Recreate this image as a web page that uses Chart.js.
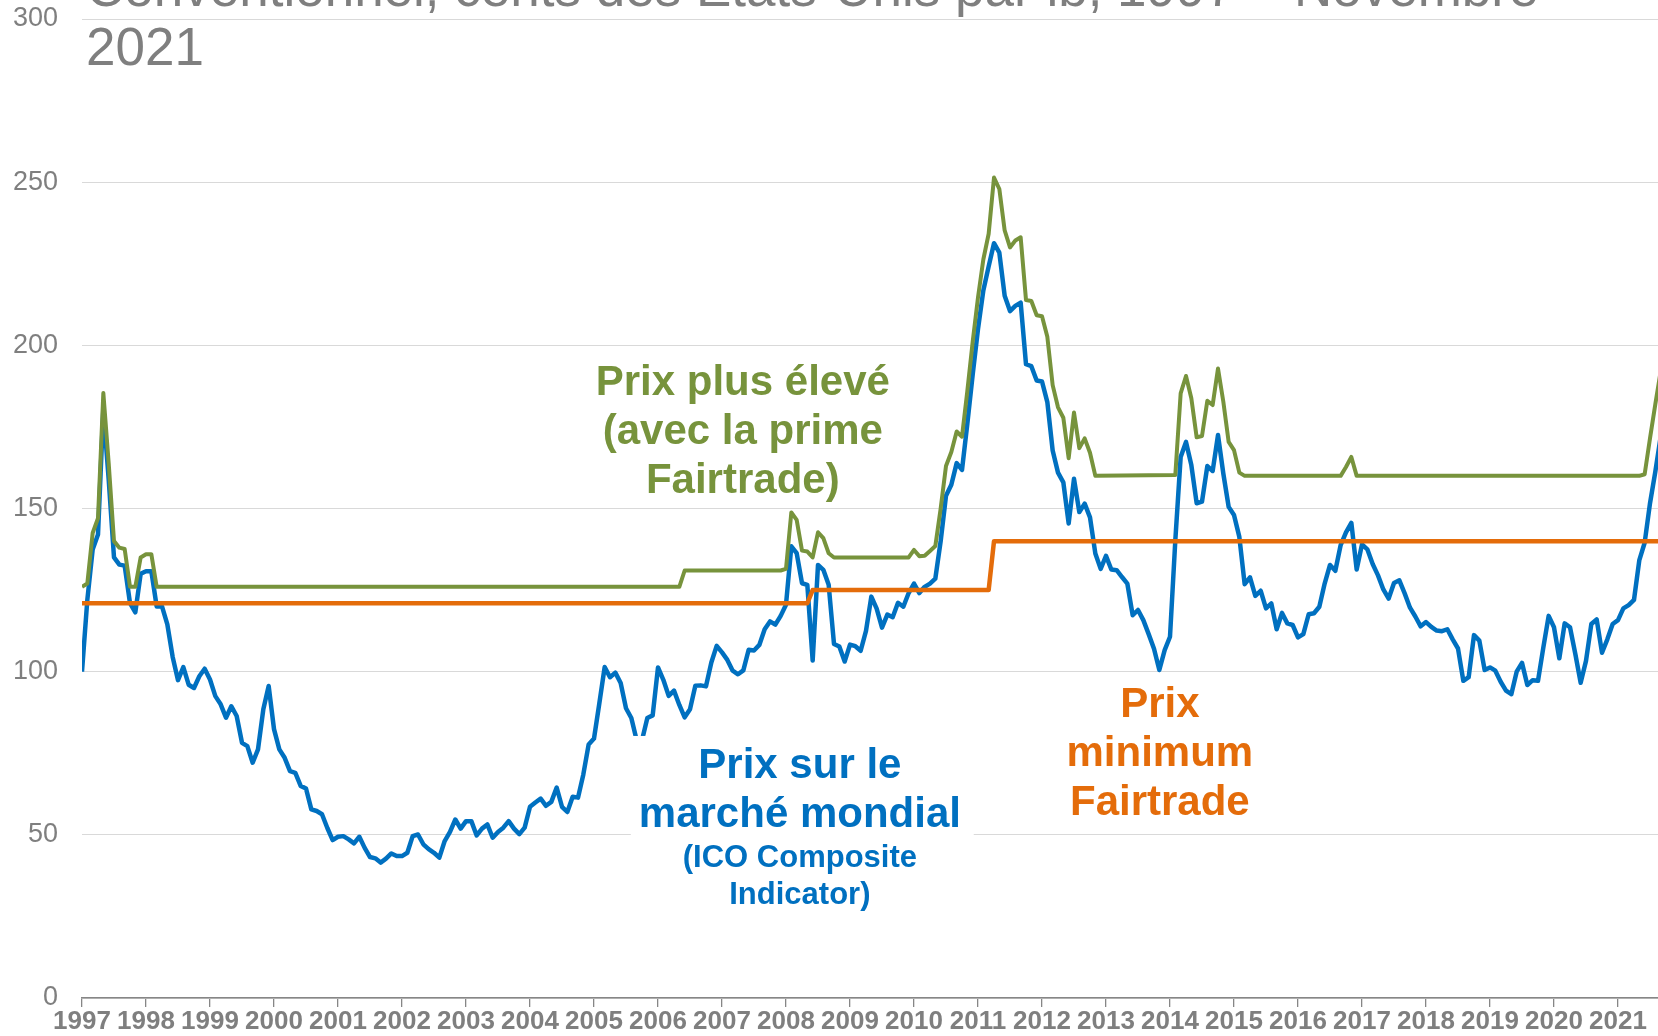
<!DOCTYPE html>
<html>
<head>
<meta charset="utf-8">
<script src="https://cdn.jsdelivr.net/npm/chart.js@4.4.1/dist/chart.umd.min.js"></script>
<style>
  html, body { margin: 0; padding: 0; background: #fff; }
  #wrap { width: 1658px; height: 1036px; }
</style>
</head>
<body>
<div id="wrap"><canvas id="chart"></canvas></div>
<script>
// x values are months counted from January 1997 (0 = Jan 1997)
const startYear = 1997;
const titleLines = ['Conventionnel, cents des États-Unis par lb, 1997 – Novembre', '2021'];

// World market price (ICO Composite Indicator), one value per month from Jan 1997
const marketPrice = [
  100, 122, 137.4, 142, 180.4, 159, 135, 132.8, 132.5, 121, 118.2, 130,          // 1997
  130.8, 130.8, 120, 120, 114.5, 104.5, 97.4, 101.4, 96, 95, 98.6, 100.9,        // 1998
  97.6, 92.5, 90, 85.9, 89.4, 86.4, 78.2, 77.2, 72.1, 76.2, 88.5, 95.6,          // 1999
  82.4, 76.2, 73.6, 69.5, 69, 65, 64.2, 57.8, 57.3, 56.3, 52.1, 48.4,            // 2000
  49.4, 49.6, 48.6, 47.4, 49.4, 46, 43.2, 42.8, 41.5, 42.7, 44.3, 43.5,          // 2001
  43.5, 44.5, 49.6, 50.1, 47.1, 45.6, 44.5, 43, 48.1, 50.9, 54.7, 51.9,          // 2002
  54.2, 54.2, 49.8, 51.9, 53.2, 49.1, 50.9, 52.2, 54.2, 51.9, 50.2, 52.2,        // 2003
  58.6, 59.9, 61.1, 58.9, 60.1, 64.5, 58.6, 57, 61.7, 61.4, 68.5, 77.7,          // 2004
  79.5, 90.3, 101.4, 98.3, 99.7, 96.5, 88.8, 85.8, 79, 79, 85.8, 86.6,           // 2005
  101.3, 97.5, 92.6, 94.2, 89.8, 86, 88.5, 95.7, 95.8, 95.5, 102.8, 107.9,       // 2006
  105.9, 103.6, 100.3, 99.2, 100.4, 106.7, 106.5, 108.2, 113, 115.4, 114.4, 117.1, // 2007
  120.5, 138.4, 136.3, 127.1, 126.6, 103.4, 132.7, 131.2, 126.6, 108.5, 107.7, 103.1, // 2008
  108.3, 107.8, 106.4, 112.5, 123, 119.3, 113.5, 117.5, 116.7, 121.1, 119.9, 124.1, // 2009
  127, 124.1, 126, 127, 128.5, 140, 153.9, 157.3, 163.9, 161.8, 176, 191,        // 2010
  205, 216.8, 224.2, 231.3, 228.4, 215.2, 210.5, 212.1, 213.1, 194.2, 193.6, 189.2, // 2011
  188.9, 182.6, 167.8, 161, 158, 145.4, 159.1, 148.9, 151.5, 147.3, 136.2, 131.5, // 2012
  135.5, 131.3, 131.1, 129, 127, 117.3, 118.9, 115.8, 111.5, 107, 100.5, 106.6,  // 2013
  110.7, 140.3, 165.8, 170.4, 163.3, 151.6, 152.1, 163, 161.5, 172.5, 160.7, 150.5, // 2014
  148, 141.3, 126.8, 128.9, 123.2, 124.8, 119.4, 120.9, 113, 118, 114.8, 114.3,  // 2015
  110.5, 111.5, 117.6, 117.9, 119.9, 127, 132.7, 130.9, 138.8, 142.7, 145.6, 131.3, // 2016
  139, 137.5, 133, 129.5, 125.2, 122.4, 127.2, 128, 124, 119.6, 116.9, 113.9,    // 2017
  115.2, 113.7, 112.6, 112.4, 113, 109.9, 107.1, 97.2, 98.3, 111.2, 109.5, 100.5, // 2018
  101.3, 100.3, 96.9, 94.2, 93.1, 100, 102.7, 95.9, 97.4, 97.2, 107.4, 117.1,    // 2019
  113.6, 104.1, 114.8, 113.6, 105.4, 96.6, 103.3, 114.6, 116, 105.8, 109.9, 114.6, // 2020
  115.8, 119.4, 120.4, 122, 134.2, 139.5, 151.6, 161.3, 172                      // 2021
];

// Higher price (with Fairtrade premium): breakpoints (month, value)
const premiumMonths = [0, 1, 2, 3, 4, 5, 6, 7, 8, 9, 10, 11, 12, 13, 14, 112, 113, 131, 132, 133,
  134, 135, 136, 137, 138, 139, 140, 141, 155, 156, 157, 158, 159, 160, 161, 162, 163, 164, 165,
  166, 167, 168, 169, 170, 171, 172, 173, 174, 175, 176, 177, 178, 179, 180, 181, 182, 183, 184,
  185, 186, 187, 188, 189, 190, 205, 206, 207, 208, 209, 210, 211, 212, 213, 214, 215, 216, 217,
  218, 236, 237, 238, 239, 292, 293, 294, 295, 296];
const premiumPrice = [126, 127, 142.5, 147, 185.4, 164, 140, 138, 137.6, 126, 126, 135, 136, 136, 126, 126, 131, 131, 131.5, 148.8,
  146.5, 137.1, 136.8, 135, 142.7, 140.9, 136.3, 135, 135, 137.3, 135.4, 135.5, 137, 138.5, 150, 163, 167.3, 173.6, 172,
  186, 201, 214.7, 226.3, 234.2, 251.4, 247.9, 235.2, 230, 232.1, 233.1, 213.9, 213.6, 209.2, 208.9, 202.6, 187.8, 181, 177.8,
  165.4, 179.4, 168.5, 171.5, 167.1, 160, 160.3, 185.3, 190.6, 183.8, 171.8, 172.2, 183, 181.7, 192.9, 182.7, 170.4, 167.9, 161,
  160, 160, 162.7, 165.8, 160, 160, 160.5, 171.5, 182, 192];

// Fairtrade minimum price: breakpoints (month, value)
const minimumMonths = [0, 136, 137, 170, 171, 296];
const minimumPrice = [121, 121, 125, 125, 140, 140];

const noteBlocks = [
  { lines: ['Prix plus élevé', '(avec la prime', 'Fairtrade)'], color: '#77933C', size: 42, at: [123.9, 184.7], step: 48.7 },
  { lines: ['Prix', 'minimum', 'Fairtrade'], color: '#E46C0A', size: 42, at: [202.1, 86.1], step: 49 },
  { lines: ['Prix sur le', 'marché mondial'], color: '#0070C0', size: 42, at: [134.6, 67.4], step: 49 },
  { lines: ['(ICO Composite', 'Indicator)'], color: '#0070C0', size: 31, at: [134.6, 40.1], step: 37 }
];
// white panel behind the market price label (month range, value range)
const notePanel = { from: 102.9, to: 167.2, top: 80.3, bottom: 22.4 };

const FONT = '"Liberation Sans", Arial, sans-serif';
const GREY = '#7f7f7f';

const notesPlugin = {
  id: 'notes',
  afterDatasetsDraw(chart) {
    const { ctx, scales: { x, y } } = chart;
    ctx.save();
    ctx.fillStyle = '#fff';
    const px0 = x.getPixelForValue(notePanel.from), px1 = x.getPixelForValue(notePanel.to);
    const py0 = y.getPixelForValue(notePanel.top), py1 = y.getPixelForValue(notePanel.bottom);
    ctx.fillRect(px0, py0, px1 - px0, py1 - py0);

    ctx.textAlign = 'center';
    ctx.textBaseline = 'alphabetic';
    noteBlocks.forEach(b => {
      ctx.fillStyle = b.color;
      ctx.font = `bold ${b.size}px ${FONT}`;
      const cx = x.getPixelForValue(b.at[0]);
      const by = y.getPixelForValue(b.at[1]);
      b.lines.forEach((t, i) => ctx.fillText(t, cx, by + i * b.step));
    });
    ctx.restore();
  },
  afterDraw(chart) {
    const ctx = chart.ctx;
    ctx.save();
    ctx.fillStyle = GREY;
    ctx.font = `53px ${FONT}`;
    ctx.textAlign = 'left';
    ctx.textBaseline = 'alphabetic';
    ctx.fillText(titleLines[0], 86, 6);
    ctx.fillText(titleLines[1], 86, 65);
    ctx.restore();
  }
};

const toPoints = (xs, ys) => xs.map((m, i) => ({ x: m, y: ys[i] }));

new Chart(document.getElementById('chart'), {
  type: 'line',
  data: {
    datasets: [
      {
        label: 'Prix plus élevé (avec la prime Fairtrade)',
        data: toPoints(premiumMonths, premiumPrice),
        borderColor: '#77933C',
        borderWidth: 4,
        order: 0
      },
      {
        label: 'Prix minimum Fairtrade',
        data: toPoints(minimumMonths, minimumPrice),
        borderColor: '#E46C0A',
        borderWidth: 4.5,
        order: 1
      },
      {
        label: 'Prix sur le marché mondial',
        data: marketPrice.map((v, i) => ({ x: i, y: v })),
        borderColor: '#0070C0',
        borderWidth: 4.5,
        order: 2
      }
    ]
  },
  options: {
    responsive: true,
    maintainAspectRatio: false,
    animation: false,
    devicePixelRatio: 1,
    layout: { padding: { top: 19, left: 0, right: 0, bottom: 0 } },
    elements: {
      point: { radius: 0 },
      line: { tension: 0, borderJoinStyle: 'round', fill: false }
    },
    plugins: {
      legend: { display: false },
      title: { display: false },
      tooltip: { enabled: false }
    },
    scales: {
      x: {
        type: 'linear',
        min: 0,
        max: 295.5,
        afterFit: s => { s.height = 38; },
        grid: { drawOnChartArea: false, drawTicks: true, tickLength: 9, color: '#868686', lineWidth: 1.3 },
        border: { display: true, color: '#868686', width: 1.5 },
        ticks: {
          stepSize: 12,
          includeBounds: false,
          autoSkip: false,
          maxRotation: 0,
          padding: -1,
          color: GREY,
          font: { family: FONT, size: 26, weight: 'bold' },
          callback: v => String(startYear + v / 12)
        }
      },
      y: {
        min: 0,
        max: 300,
        afterFit: s => { s.width = 82; },
        // invisible tick stubs keep the labels clear of the plot
        grid: { color: '#d9d9d9', lineWidth: 1, drawTicks: true, tickLength: 24, tickColor: 'rgba(0,0,0,0)' },
        border: { display: false },
        ticks: {
          stepSize: 50,
          padding: 0,
          color: GREY,
          font: { family: FONT, size: 27 }
        }
      }
    }
  },
  plugins: [notesPlugin]
});
</script>
</body>
</html>
